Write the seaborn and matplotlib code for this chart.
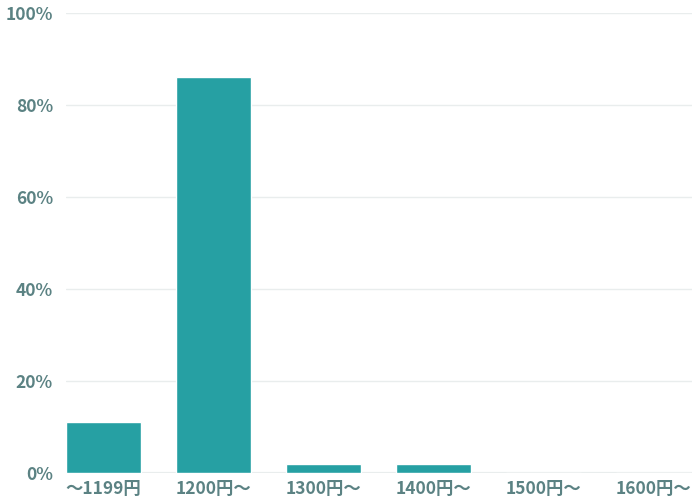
import matplotlib
matplotlib.use("Agg")
import matplotlib.pyplot as plt
import pandas as pd
import seaborn as sns
from matplotlib.ticker import PercentFormatter

categories = ["～1199円", "1200円～", "1300円～", "1400円～", "1500円～", "1600円～"]
shares = [11, 86, 2, 2, 0, 0]
y_ticks = [0, 20, 40, 60, 80, 100]

BAR_COLOR = "#26a0a3"
TEXT_COLOR = "#5b8283"
GRID_COLOR = "#e9eded"

sns.set_theme(style="white")
plt.rcParams["font.family"] = ["Noto Sans CJK JP", "DejaVu Sans"]

df = pd.DataFrame({"category": categories, "share": shares})

fig = plt.figure(figsize=(6.95, 5.0), dpi=100)
ax = fig.add_axes([66 / 695, 1 - 473 / 500, 626 / 695, 460 / 500])

ax.set_axisbelow(True)
for t in y_ticks:
    ax.axhline(t, color=GRID_COLOR, linewidth=1.0 if t else 1.6, zorder=0)

sns.barplot(data=df, x="category", y="share", color=BAR_COLOR, width=0.68,
            saturation=1, ax=ax, zorder=2)

ax.set_xlim(-0.34, 5.35)
ax.set_ylim(0, 100)
ax.set_yticks(y_ticks)
ax.yaxis.set_major_formatter(PercentFormatter(decimals=0))
ax.set_xlabel("")
ax.set_ylabel("")
for s in ax.spines.values():
    s.set_visible(False)
ax.tick_params(axis="both", length=0, labelsize=12.5, labelcolor=TEXT_COLOR)
ax.tick_params(axis="y", pad=9.5)
ax.tick_params(axis="x", pad=5)
for lbl in ax.get_xticklabels() + ax.get_yticklabels():
    lbl.set_fontweight("bold")

fig.savefig("out.png", dpi=100)
